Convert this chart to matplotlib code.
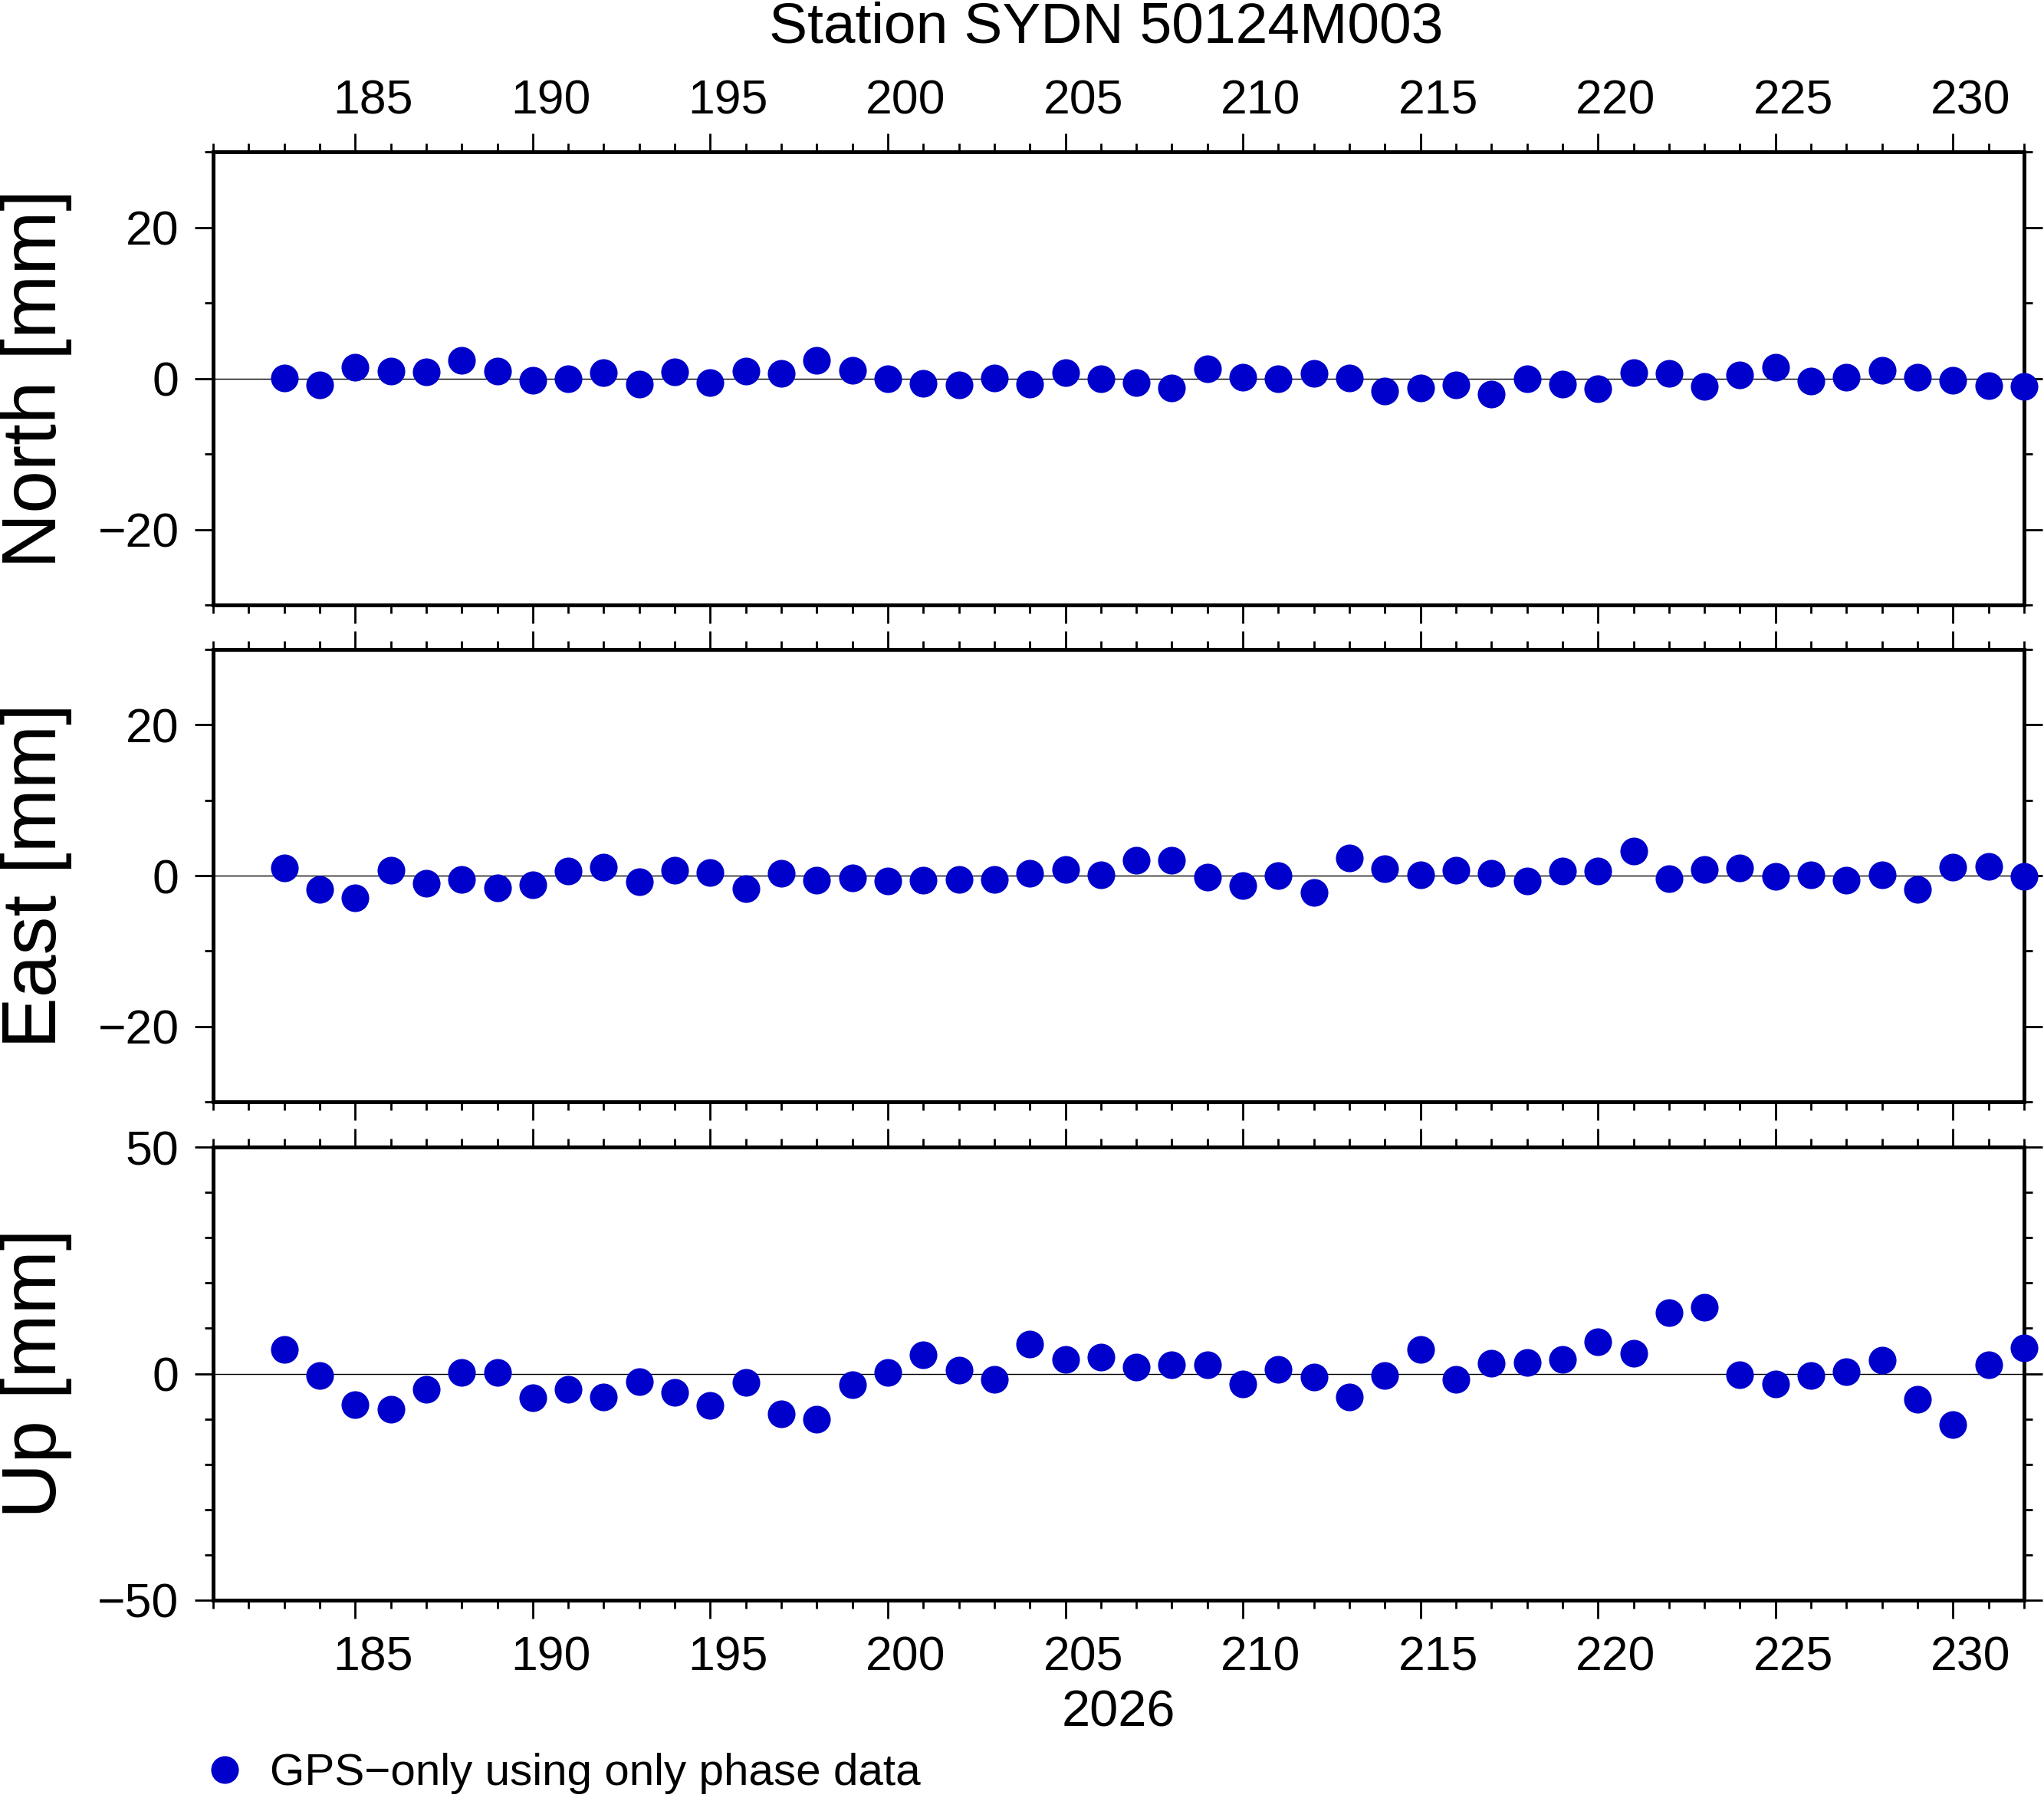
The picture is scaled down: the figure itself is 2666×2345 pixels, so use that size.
import matplotlib
matplotlib.use("Agg")
import matplotlib.pyplot as plt
from matplotlib.ticker import MultipleLocator
from matplotlib.transforms import ScaledTranslation

plt.rcParams['font.family'] = ['Liberation Sans', 'DejaVu Sans']

# Data (day of year 2026, residuals in mm)
days = [183, 184, 185, 186, 187, 188, 189, 190, 191, 192,
        193, 194, 195, 196, 197, 198, 199, 200, 201, 202,
        203, 204, 205, 206, 207, 208, 209, 210, 211, 212,
        213, 214, 215, 216, 217, 218, 219, 220, 221, 222,
        223, 224, 225, 226, 227, 228, 229, 230, 231, 232]

north = [0.1, -0.9, 1.5, 1.0, 0.9, 2.4, 1.0, -0.3, 0.0, 0.8,
         -0.8, 0.9, -0.6, 1.0, 0.7, 2.4, 1.1, 0.0, -0.7, -0.9,
         0.1, -0.8, 0.8, -0.1, -0.6, -1.3, 1.3, 0.2, 0.0, 0.7,
         0.1, -1.7, -1.3, -0.9, -2.1, 0.0, -0.8, -1.4, 0.8, 0.7,
         -1.1, 0.5, 1.5, -0.4, 0.2, 1.1, 0.2, -0.3, -1.0, -1.1]

east = [1.0, -1.8, -2.9, 0.7, -1.0, -0.5, -1.6, -1.2, 0.6, 1.1,
        -0.8, 0.7, 0.4, -1.7, 0.3, -0.6, -0.3, -0.7, -0.6, -0.5,
        -0.5, 0.3, 0.8, 0.1, 2.0, 2.0, -0.2, -1.3, 0.0, -2.2,
        2.3, 0.9, 0.1, 0.7, 0.3, -0.7, 0.6, 0.6, 3.3, -0.4,
        0.8, 1.0, -0.1, 0.1, -0.6, 0.1, -1.8, 1.1, 1.2, -0.1]

up = [5.4, -0.5, -6.8, -7.8, -3.4, 0.3, 0.3, -5.4, -3.4, -5.1,
      -1.7, -4.1, -7.1, -2.0, -8.8, -10.1, -2.5, 0.3, 4.1, 0.7,
      -1.2, 6.5, 3.2, 3.6, 1.5, 2.0, 1.9, -2.2, 1.0, -0.7,
      -5.1, -0.5, 5.3, -1.2, 2.2, 2.5, 3.2, 7.0, 4.4, 13.4,
      14.6, -0.3, -2.2, -0.5, 0.5, 3.0, -5.6, -11.3, 1.9, 5.6]

components = ["North [mm]", "East [mm]", "Up [mm]"]
series = [north, east, up]
ylims = [(-30, 30), (-30, 30), (-50, 50)]
ymajor = [20, 20, 50]
yminor = [10, 10, 10]

title = "Station SYDN 50124M003"
year_label = "2026"
legend_label = "GPS\u2212only using only phase data"
dot_color = '#0000CC'

W, H = 2666, 2345
fig = plt.figure(figsize=(W / 100, H / 100), dpi=100)

left, right = 278 / W, 2640 / W
panel_px = [(198, 789), (847, 1437), (1496, 2087)]
xpads = [9, 14, 16]

# day labels sit half a day right of their tick (GMT style)
day_px = (right - left) * W / (232 - 181)
label_shift = ScaledTranslation(0.5 * day_px / 100, 0, fig.dpi_scale_trans)

axes = []
for i, (top_px, bot_px) in enumerate(panel_px):
    b = (H - bot_px) / H
    h = (bot_px - top_px) / H
    ax = fig.add_axes([left, b, right - left, h])
    axes.append(ax)

    ax.axhline(0, color='black', lw=1.0, zorder=1)
    line, = ax.plot(days, series[i], linestyle='none', marker='o', markersize=26,
                    markeredgewidth=0, color=dot_color, clip_on=False, zorder=3,
                    label=legend_label)

    ax.set_xlim(181, 232)
    ax.set_ylim(*ylims[i])
    ax.xaxis.set_major_locator(MultipleLocator(5))
    ax.xaxis.set_minor_locator(MultipleLocator(1))
    ax.yaxis.set_major_locator(MultipleLocator(ymajor[i]))
    ax.yaxis.set_minor_locator(MultipleLocator(yminor[i]))

    ax.tick_params(which='both', direction='out', top=True, bottom=True,
                   left=True, right=True, width=2.0, labelsize=45)
    ax.tick_params(axis='x', pad=xpads[i])
    ax.tick_params(axis='y', pad=15)
    ax.tick_params(which='major', length=17)
    ax.tick_params(which='minor', length=8)
    ax.tick_params(labeltop=(i == 0), labelbottom=(i == 2), labelright=False)

    for tick in ax.xaxis.get_major_ticks():
        tick.label1.set_transform(tick.label1.get_transform() + label_shift)
        tick.label2.set_transform(tick.label2.get_transform() + label_shift)

    for spine in ax.spines.values():
        spine.set_linewidth(3.6)
        spine.set_color('black')

    yc = 1 - ((top_px + bot_px) / 2) / H
    fig.text(47 / W, yc, components[i], rotation=90, ha='center', va='center',
             fontsize=72)

fig.text(1443 / W, (H - 56) / H, title, ha='center', va='baseline', fontsize=54)
fig.text(1459 / W, (H - 2251) / H, year_label, ha='center', va='baseline', fontsize=48)

fig.legend(handles=[line], loc='center left', bbox_to_anchor=(270 / W, (H - 2313) / H),
           frameon=False, fontsize=42, numpoints=1, handlelength=0.8,
           handletextpad=0.6, borderpad=0, borderaxespad=0)

fig.savefig("out.png", dpi=100)
